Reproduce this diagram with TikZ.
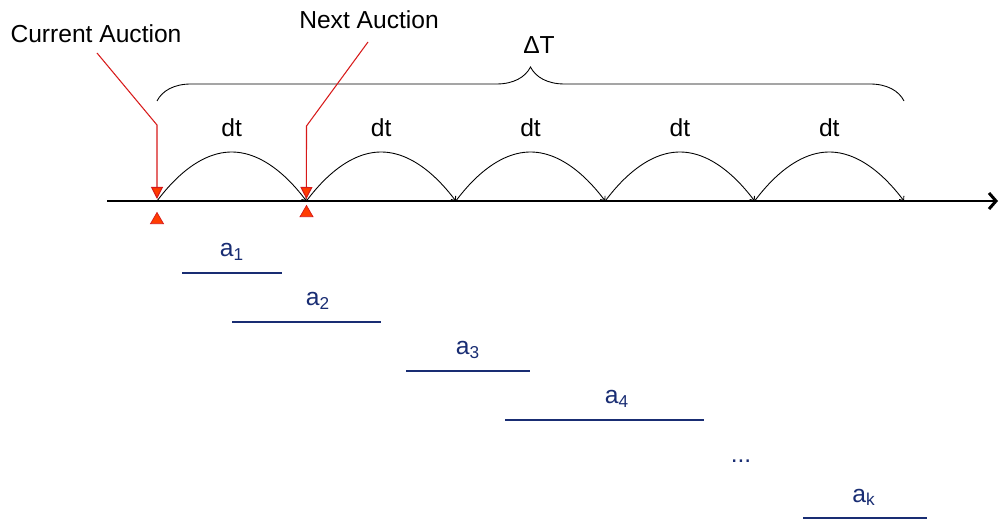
\documentclass[tikz,border=0pt]{standalone}
\usepackage{fontspec}
\setmainfont{Liberation Sans}
\usetikzlibrary{arrows.meta,positioning,shapes.geometric,calc,decorations.pathreplacing}
\definecolor{signal}{RGB}{215,25,25}
\definecolor{flame}{RGB}{255,60,0}
\definecolor{navy}{RGB}{25,45,115}
\definecolor{ink}{RGB}{0,0,0}
\tikzset{
  >={Stealth[length=2.6mm]},
  lbl/.style={font=\fontsize{14}{16}\selectfont,text=ink,inner sep=1pt},
  timeline/.style={draw=ink,line width=1.7pt,-{Straight Barb[length=1.4mm,width=3.2mm]}},
  hop/.style={draw=ink,line width=0.5pt,-{Straight Barb[length=0.7mm,width=1.2mm]}},
  pointer/.style={draw=signal,line width=0.6pt,-{Triangle[length=2.4mm,width=2.4mm,fill=flame]}},
  marker/.style={regular polygon,regular polygon sides=3,draw=signal,fill=flame,
    line width=0.4pt,minimum size=3mm,inner sep=0pt},
  window/.style={draw=navy,line width=0.7pt},
  bid/.style={font=\fontsize{14}{16}\selectfont,text=navy,inner sep=0pt},
}
\begin{document}
\begin{tikzpicture}
  \useasboundingbox (0,0) rectangle (19.98,10.42);
  % time axis and the dt steps
  \coordinate (start) at (2.14,6.40);
  \coordinate (stop) at (19.96,6.40);
  \draw[timeline] (start) -- (stop);
  \foreach \i in {0,...,5}
    \coordinate (t\i) at ({3.14+2.988*\i},6.40);
  \foreach \i [count=\j] in {0,...,4} {
    \draw[hop] (t\i) parabola bend ($(t\i)!0.5!(t\j)+(0,0.98)$) (t\j);
    \node[lbl] (dt\j) at ($(t\i)!0.5!(t\j)+(0,1.46)$) {dt};
  }
  % whole horizon
  \draw[ink,line width=0.5pt,decorate,decoration={brace,amplitude=0.68cm}]
    ($(t0)+(0,2.0)$) -- ($(t5)+(0,2.0)$);
  \node[lbl] (span) at (10.78,9.52) {ΔT};
  % auctions
  \node[lbl] (cur) at (1.92,9.74) {Current Auction};
  \node[lbl] (next) at (7.38,10.02) {Next Auction};
  \coordinate (curtail) at (1.94,9.36);
  \coordinate (nexttail) at (7.36,9.58);
  \draw[pointer] (curtail) -- (3.14,7.92) -- ($(t0)+(0,0.04)$);
  \draw[pointer] (nexttail) -- (6.13,7.90) -- ($(t1)+(0,0.04)$);
  \node[marker] (m0) at (3.14,6.02) {};
  \node[marker] (m1) at (6.13,6.16) {};
  % bid windows
  \foreach \s/\e/\y/\lx/\name [count=\k] in {3.64/5.64/4.96/4.64/1,
      4.64/7.62/3.98/6.36/2, 8.12/10.60/3.00/9.36/3,
      10.10/14.08/2.02/12.34/4, 16.06/18.54/0.06/17.28/k} {
    \coordinate (w\k s) at (\s,\y);
    \coordinate (w\k e) at (\e,\y);
    \draw[window] (w\k s) -- (w\k e);
    \node[bid,anchor=base] (bid\k) at (\lx,\y+0.32) {a\textsubscript{\name}};
  }
  \node[bid] (more) at (14.82,1.20) {...};
\end{tikzpicture}
\end{document}
